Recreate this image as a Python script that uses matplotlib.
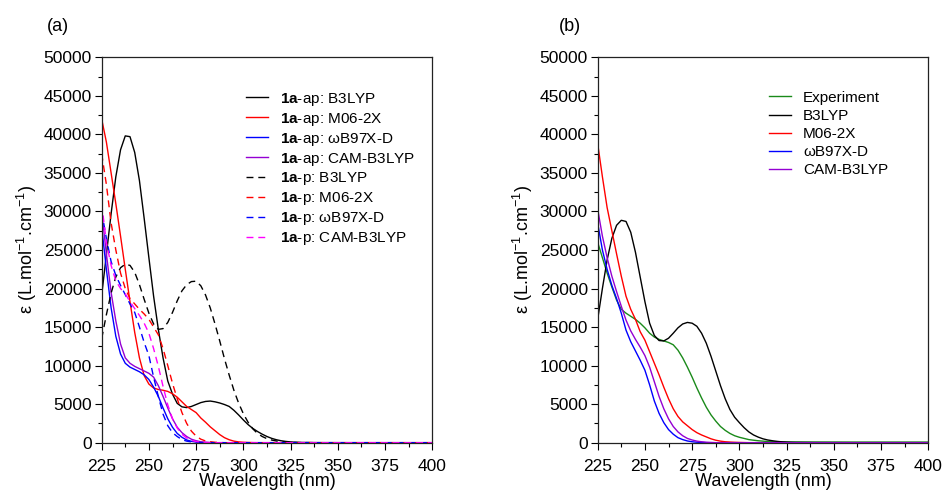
#!/usr/bin/env python3
# -*- coding: utf-8 -*-
"""
UV-vis spectra: (a) 1a-ap / 1a-p with 4 functionals, (b) experiment vs theory
"""
import numpy as np
import matplotlib
matplotlib.use("Agg")
import matplotlib.pyplot as plt
from matplotlib.ticker import MultipleLocator

plt.rcParams["font.family"] = ["Liberation Sans", "DejaVu Sans"]
plt.rcParams["mathtext.fontset"] = "custom"
plt.rcParams["mathtext.rm"] = "Liberation Sans"
plt.rcParams["mathtext.bf"] = "Liberation Sans:bold"
plt.rcParams["mathtext.it"] = "Liberation Sans:italic"

# ------- wavelength grid (nm) -------
WL = [225, 227.5, 230, 232.5, 235, 237.5, 240, 242.5, 245, 247.5,
      250, 252.5, 255, 257.5, 260, 262.5, 265, 267.5, 270, 272.5,
      275, 277.5, 280, 282.5, 285, 287.5, 290, 292.5, 295, 297.5,
      300, 302.5, 305, 307.5, 310, 312.5, 315, 317.5, 320, 322.5,
      325, 327.5, 330, 340, 360, 380, 400]

# ------- panel (a) -------
ap_b3lyp = [19100, 24400, 29700, 34500, 38000, 39800, 39700, 37650, 34000, 29100,
            24000, 19000, 14700, 11000, 8000, 6300, 5100, 4650, 4550, 4700,
            4950, 5200, 5350, 5400, 5300, 5150, 4950, 4700, 4200, 3600,
            2950, 2350, 1850, 1450, 1100, 800, 560, 380, 250, 160,
            100, 55, 30, 5, 0, 0, 0]
ap_m062x = [42000, 39000, 35000, 31000, 26800, 22500, 18300, 14300, 11000, 8700,
            7600, 7100, 6900, 6800, 6650, 6350, 5900, 5300, 4700, 4300,
            3900, 3200, 2650, 2050, 1550, 1050, 650, 380, 200, 100,
            50, 25, 10, 0, 0, 0, 0, 0, 0, 0,
            0, 0, 0, 0, 0, 0, 0]
ap_wb97xd = [28000, 22500, 17500, 13800, 11500, 10300, 9800, 9500, 9200, 8800,
             8200, 7200, 6000, 4500, 3100, 2000, 1200, 700, 350, 180,
             80, 30, 0, 0, 0, 0, 0, 0, 0, 0,
             0, 0, 0, 0, 0, 0, 0, 0, 0, 0,
             0, 0, 0, 0, 0, 0, 0]
ap_cam = [30000, 24500, 19500, 15800, 12800, 11000, 10300, 9900, 9600, 9300,
          9000, 8500, 7400, 6000, 4500, 3100, 2000, 1300, 800, 450,
          250, 120, 60, 20, 0, 0, 0, 0, 0, 0,
          0, 0, 0, 0, 0, 0, 0, 0, 0, 0,
          0, 0, 0, 0, 0, 0, 0]
p_b3lyp = [13500, 16600, 19400, 21500, 22700, 23150, 23000, 22100, 20500, 18600,
           16800, 15400, 14700, 14800, 15600, 16900, 18400, 19700, 20500, 20900,
           20950, 20350, 19150, 17470, 15400, 13200, 10900, 8770, 6800, 5130,
           3760, 2650, 1800, 1200, 800, 520, 340, 220, 140, 90,
           55, 30, 15, 0, 0, 0, 0]
p_m062x = [37500, 33500, 28500, 25000, 22000, 20000, 18700, 18000, 17300, 16700,
           16000, 15000, 14000, 12200, 10000, 7700, 5700, 3900, 2500, 1500,
           850, 450, 220, 120, 50, 20, 0, 0, 0, 0,
           0, 0, 0, 0, 0, 0, 0, 0, 0, 0,
           0, 0, 0, 0, 0, 0, 0]
p_wb97xd = [30000, 26500, 23500, 21700, 20400, 19200, 18000, 16900, 15000, 13000,
            11300, 8500, 6000, 3700, 2200, 1300, 800, 400, 200, 100,
            50, 0, 0, 0, 0, 0, 0, 0, 0, 0,
            0, 0, 0, 0, 0, 0, 0, 0, 0, 0,
            0, 0, 0, 0, 0, 0, 0]
p_cam = [31000, 26000, 23000, 21000, 20000, 19300, 18300, 17400, 16500, 15500,
         14200, 12200, 9900, 7300, 4900, 3100, 1900, 1100, 600, 300,
         150, 70, 30, 0, 0, 0, 0, 0, 0, 0,
         0, 0, 0, 0, 0, 0, 0, 0, 0, 0,
         0, 0, 0, 0, 0, 0, 0]

# ------- panel (b) -------
exp = [26000, 24000, 22000, 20200, 18500, 17300, 16800, 16400, 16000, 15500,
       14900, 14200, 13700, 13400, 13200, 13000, 12700, 12000, 11000, 9800,
       8500, 7100, 5800, 4600, 3600, 2800, 2100, 1600, 1200, 900,
       700, 550, 400, 320, 250, 200, 150, 130, 120, 110,
       100, 100, 100, 90, 80, 80, 80]
b3lyp = [16000, 20000, 23700, 26500, 28200, 28850, 28700, 27300, 24700, 21500,
         18300, 15500, 13900, 13250, 13200, 13550, 14200, 14900, 15400, 15600,
         15500, 15100, 14200, 12900, 11200, 9300, 7400, 5700, 4300, 3300,
         2600, 1950, 1400, 1000, 720, 500, 350, 250, 170, 110,
         70, 40, 20, 5, 0, 0, 0]
m062x = [38800, 34500, 30500, 27500, 24500, 21600, 19000, 17300, 16000, 14400,
         13300, 11800, 10300, 8800, 7200, 5700, 4400, 3400, 2700, 2200,
         1700, 1300, 1000, 750, 500, 320, 200, 120, 80, 50,
         30, 15, 0, 0, 0, 0, 0, 0, 0, 0,
         0, 0, 0, 0, 0, 0, 0]
wb97xd = [28500, 25000, 22500, 20400, 18700, 16800, 14600, 13100, 11900, 10700,
          9400, 7500, 5400, 3800, 2600, 1700, 1100, 650, 400, 220,
          120, 60, 30, 0, 0, 0, 0, 0, 0, 0,
          0, 0, 0, 0, 0, 0, 0, 0, 0, 0,
          0, 0, 0, 0, 0, 0, 0]
cam = [30300, 26800, 24000, 21600, 19600, 17700, 15900, 14500, 13400, 12400,
       11300, 9800, 7900, 6000, 4400, 3100, 2100, 1400, 900, 550,
       350, 200, 120, 60, 30, 0, 0, 0, 0, 0,
       0, 0, 0, 0, 0, 0, 0, 0, 0, 0,
       0, 0, 0, 0, 0, 0, 0]

BLACK, RED, BLUE, PURPLE, MAGENTA, GREEN = ("black", "#ff0000", "#0000ff",
                                            "#9400d3", "#ff00ff", "#1a8a1a")
DASH = (0, (5, 3.5))

LEFT_SERIES = [
    (ap_b3lyp, BLACK, "-", r"$\mathbf{1a}$-ap: B3LYP"),
    (ap_m062x, RED, "-", r"$\mathbf{1a}$-ap: M06-2X"),
    (ap_wb97xd, BLUE, "-", r"$\mathbf{1a}$-ap: ωB97X-D"),
    (ap_cam, PURPLE, "-", r"$\mathbf{1a}$-ap: CAM-B3LYP"),
    (p_b3lyp, BLACK, DASH, r"$\mathbf{1a}$-p: B3LYP"),
    (p_m062x, RED, DASH, r"$\mathbf{1a}$-p: M06-2X"),
    (p_wb97xd, BLUE, DASH, r"$\mathbf{1a}$-p: ωB97X-D"),
    (p_cam, MAGENTA, DASH, r"$\mathbf{1a}$-p: CAM-B3LYP"),
]
RIGHT_SERIES = [
    (exp, GREEN, "-", "Experiment"),
    (b3lyp, BLACK, "-", "B3LYP"),
    (m062x, RED, "-", "M06-2X"),
    (wb97xd, BLUE, "-", "ωB97X-D"),
    (cam, PURPLE, "-", "CAM-B3LYP"),
]


def style_axes(ax):
    ax.set_xlim(225, 400)
    ax.set_ylim(0, 50000)
    ax.xaxis.set_major_locator(MultipleLocator(25))
    ax.xaxis.set_minor_locator(MultipleLocator(12.5))
    ax.yaxis.set_major_locator(MultipleLocator(5000))
    ax.yaxis.set_minor_locator(MultipleLocator(2500))
    ax.tick_params(which="both", direction="out", top=False, right=False,
                   width=0.8, labelsize=12.5)
    ax.tick_params(which="major", length=5)
    ax.tick_params(which="minor", length=3)
    ax.tick_params(axis="y", pad=2)
    ax.tick_params(axis="x", pad=7)
    for s in ax.spines.values():
        s.set_linewidth(0.9)
        s.set_color("#222222")
    ax.set_xlabel("Wavelength (nm)", fontsize=13, va="center")
    ax.xaxis.set_label_coords(0.5, -0.102)
    ax.set_ylabel(r"ε (L.mol$^{-1}$.cm$^{-1}$)", fontsize=13, va="center")
    ax.yaxis.set_label_coords(-0.225, 0.5)


def draw(ax, series, legx, legy, lspace):
    wl = np.array(WL)
    for ys, c, ls, lab in series:
        assert len(ys) == len(wl), lab
        ax.plot(wl, ys, color=c, linestyle=ls, lw=1.0, label=lab)
    ax.legend(loc="upper left", bbox_to_anchor=(legx, legy), frameon=False,
              fontsize=11, handlelength=1.45, handletextpad=0.8,
              labelspacing=lspace, borderpad=0, borderaxespad=0)


fig = plt.figure(figsize=(9.43, 4.95), dpi=100)
axa = fig.add_axes([0.1078, 0.1057, 0.3506, 0.7786])
axb = fig.add_axes([0.6338, 0.1057, 0.3506, 0.7786])

draw(axa, LEFT_SERIES, 0.4365, 0.913, 0.19)
draw(axb, RIGHT_SERIES, 0.517, 0.913, 0.27)
style_axes(axa)
style_axes(axb)

fig.text(0.0615, 0.946, "(a)", fontsize=13, ha="center", va="center")
fig.text(0.604, 0.946, "(b)", fontsize=13, ha="center", va="center")

fig.savefig("out.png", dpi=100)
